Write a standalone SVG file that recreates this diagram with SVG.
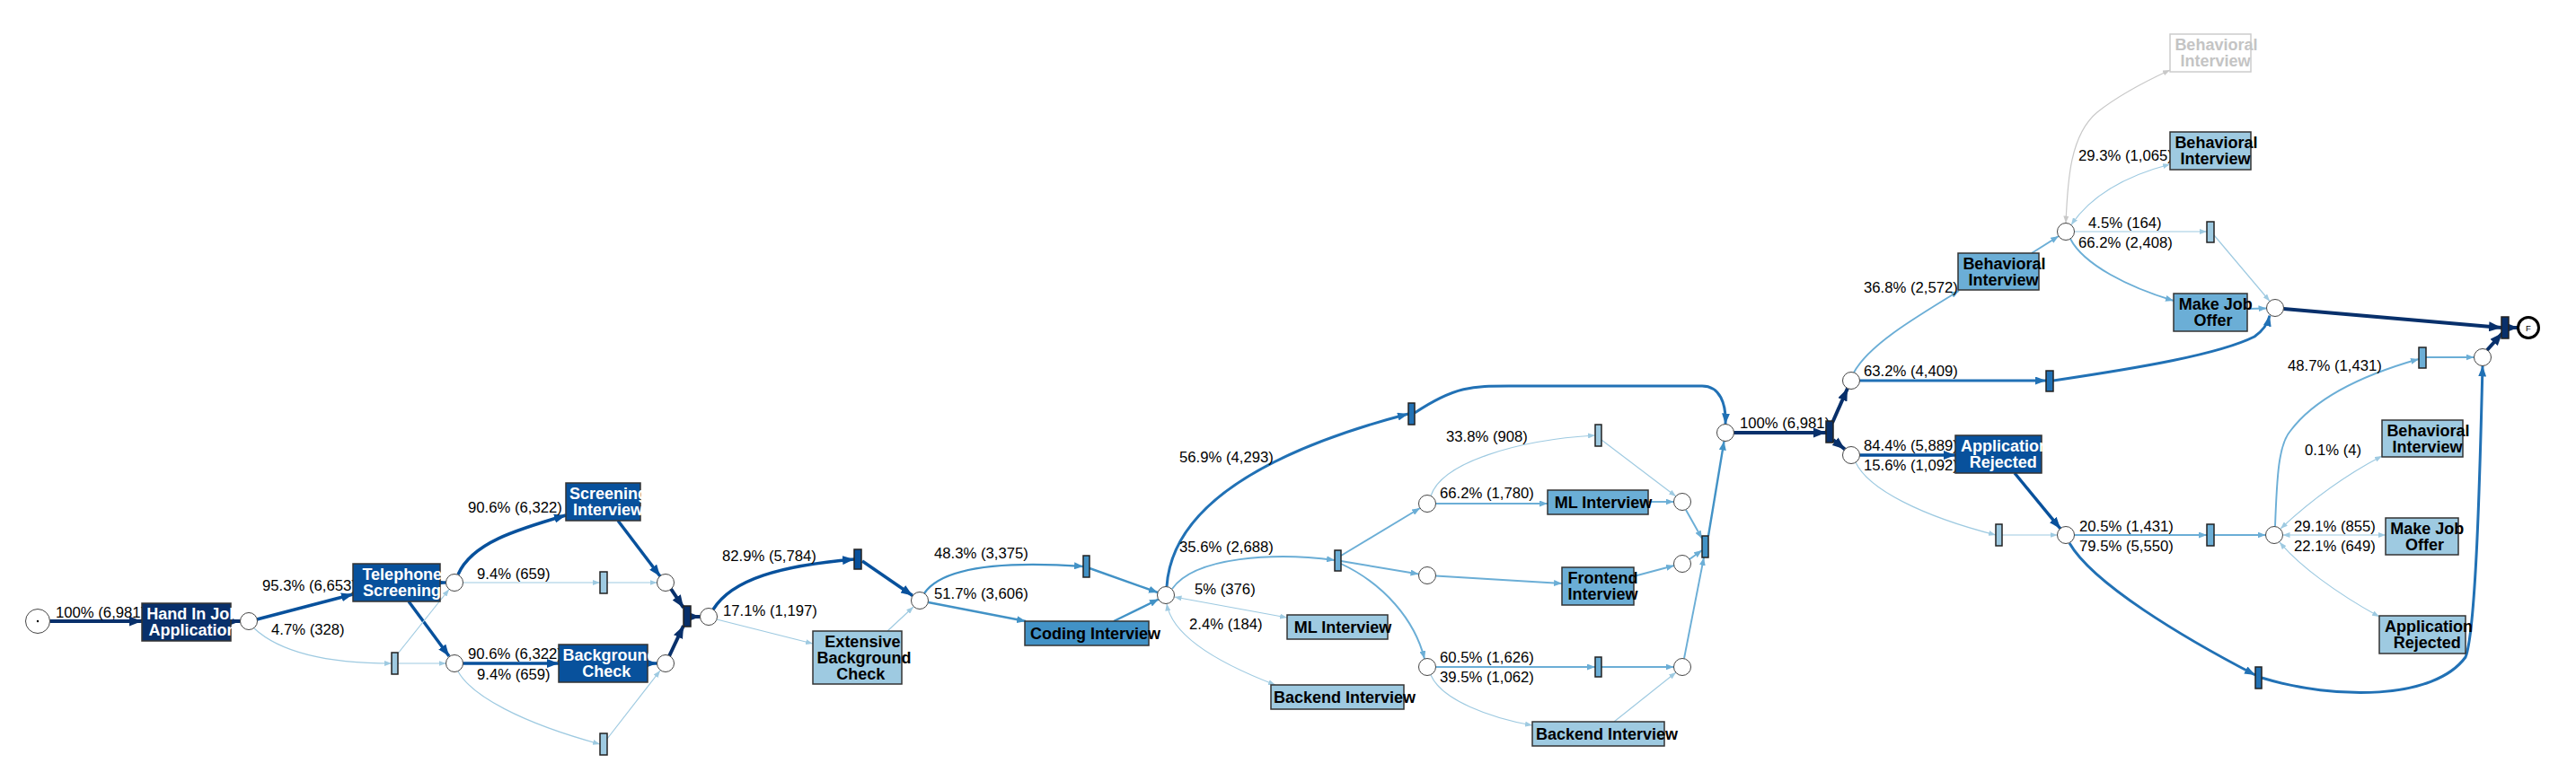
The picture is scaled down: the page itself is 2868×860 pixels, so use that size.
<svg xmlns="http://www.w3.org/2000/svg" width="2868" height="860" viewBox="0 0 2868 860">
<style>
.bg{fill:#ffffff}
.e{fill:none;stroke-linecap:butt}
.e0{stroke:#08306b;stroke-width:4;marker-end:url(#a0)}
.e1{stroke:#08519c;stroke-width:3.5;marker-end:url(#a1)}
.e2{stroke:#2171b5;stroke-width:3;marker-end:url(#a2)}
.e3{stroke:#4292c6;stroke-width:2.4;marker-end:url(#a3)}
.e4{stroke:#6baed6;stroke-width:1.9;marker-end:url(#a4)}
.e5{stroke:#9ecae1;stroke-width:1.2;marker-end:url(#a5)}
.eg{stroke:#c8c8c8;stroke-width:1.2;marker-end:url(#ag)}
.b5{marker-start:url(#a5)}
.bg5{marker-start:url(#ag)}
.lbl{font-family:"Liberation Sans",Arial,Helvetica,sans-serif;font-size:16.7px;fill:#000}
.place{fill:#ffffff;stroke:#444;stroke-width:1}
.tr{stroke:#222;stroke-width:1.5}
.box{stroke:#333;stroke-width:1.5}
.nt{font-family:"Liberation Sans",Arial,Helvetica,sans-serif;font-size:18px;font-weight:bold;text-anchor:middle}
.w{fill:#ffffff}
.k{fill:#000000}
.f0{fill:#08306b}.f1{fill:#08519c}.f2{fill:#2171b5}.f3{fill:#4292c6}.f4{fill:#6baed6}.f5{fill:#9ecae1}
</style>
<defs>
<marker id="a0" markerUnits="userSpaceOnUse" markerWidth="14" markerHeight="11" refX="14" refY="5.5" orient="auto-start-reverse"><path d="M0,0 L14,5.5 L0,11 z" fill="#08306b"/></marker>
<marker id="a1" markerUnits="userSpaceOnUse" markerWidth="13" markerHeight="10" refX="13" refY="5" orient="auto-start-reverse"><path d="M0,0 L13,5 L0,10 z" fill="#08519c"/></marker>
<marker id="a2" markerUnits="userSpaceOnUse" markerWidth="12" markerHeight="9" refX="12" refY="4.5" orient="auto-start-reverse"><path d="M0,0 L12,4.5 L0,9 z" fill="#2171b5"/></marker>
<marker id="a3" markerUnits="userSpaceOnUse" markerWidth="10" markerHeight="8" refX="10" refY="4" orient="auto-start-reverse"><path d="M0,0 L10,4 L0,8 z" fill="#4292c6"/></marker>
<marker id="a4" markerUnits="userSpaceOnUse" markerWidth="9" markerHeight="7" refX="9" refY="3.5" orient="auto-start-reverse"><path d="M0,0 L9,3.5 L0,7 z" fill="#6baed6"/></marker>
<marker id="a5" markerUnits="userSpaceOnUse" markerWidth="8" markerHeight="6" refX="8" refY="3" orient="auto-start-reverse"><path d="M0,0 L8,3 L0,6 z" fill="#9ecae1"/></marker>
<marker id="ag" markerUnits="userSpaceOnUse" markerWidth="8" markerHeight="6" refX="8" refY="3" orient="auto-start-reverse"><path d="M0,0 L8,3 L0,6 z" fill="#c8c8c8"/></marker>
</defs>
<rect class="bg" x="0" y="0" width="2868" height="860"/>

<g id="connectors">
<path class="e e0" d="M55.5,692 L158,692"/>
<path class="e e0" d="M257,692 L267.5,692"/>
<path class="e e1" d="M286,690 L393,662"/>
<path class="e e5" d="M283,700 C310,725 360,739 436,739"/>
<path class="e e1" d="M490,649 L496.5,649"/>
<path class="e e1" d="M455,670 L500,731"/>
<path class="e e5" d="M443,728 L500,656.5"/>
<path class="e e5" d="M443,739 L496.5,739"/>
<path class="e e1" d="M510,640 C525,605 575,590 630,574"/>
<path class="e e5" d="M515.5,649 L668,649"/>
<path class="e e5" d="M676,649 L731.5,649"/>
<path class="e e1" d="M688,580 L735,642"/>
<path class="e e1" d="M515.5,739 L622,739"/>
<path class="e e1" d="M721,739 L731.5,739"/>
<path class="e e5" d="M510,748 C525,775 580,805 668,829"/>
<path class="e e5" d="M676,823 L735,747"/>
<path class="e e0" d="M747,656 L761,677"/>
<path class="e e0" d="M745,731 L761,697"/>
<path class="e e0" d="M769,687 L779.5,687"/>
<path class="e e1" d="M794,679 C815,645 870,630 951,623"/>
<path class="e e5" d="M798,690 L905,717"/>
<path class="e e1" d="M960,625 L1016,663.5"/>
<path class="e e5" d="M988,703 L1017,676"/>
<path class="e e3" d="M1029,661 C1050,630 1120,625 1206,631"/>
<path class="e e3" d="M1033.5,671 L1142,692"/>
<path class="e e3" d="M1213,633 L1289,660"/>
<path class="e e3" d="M1240,692 L1290,667.5"/>
<path class="e e2" d="M1299,653.5 C1305,560 1420,500 1568,461"/>
<path class="e e2" d="M1575,460 C1620,430 1640,430 1680,430 L1895,430 C1915,430 1922,450 1921,472.5"/>
<path class="e e4" d="M1305,656 C1330,620 1420,615 1486,624"/>
<path class="e e5 b5" d="M1307.5,665 L1433,688"/>
<path class="e e5 b5" d="M1299,672.5 C1305,710 1360,740 1420,763"/>
<path class="e e4" d="M1493,619 L1581,566"/>
<path class="e e4" d="M1493,625 L1579.5,639.5"/>
<path class="e e4" d="M1493,628 C1540,650 1575,690 1586,734"/>
<path class="e e4" d="M1598.5,561 L1723,561"/>
<path class="e e5" d="M1593,552.5 C1605,515 1690,490 1776,485"/>
<path class="e e5" d="M1783,490 L1866,553"/>
<path class="e e4" d="M1835,559 L1863.5,559"/>
<path class="e e4" d="M1598.5,641.5 L1739,650"/>
<path class="e e4" d="M1819,642 L1864,630"/>
<path class="e e4" d="M1598.5,743 L1776,743"/>
<path class="e e4" d="M1783,743 L1863.5,743"/>
<path class="e e5" d="M1593,752 C1605,780 1660,800 1706,808"/>
<path class="e e5" d="M1797,804 L1866,749"/>
<path class="e e4" d="M1877,568 L1895,600"/>
<path class="e e4" d="M1881,623 L1895,613"/>
<path class="e e4" d="M1875,733.5 L1897,621"/>
<path class="e e3" d="M1902,597 L1919.5,491.5"/>
<path class="e e0" d="M1930.5,482 L2033,482"/>
<path class="e e0" d="M2040,471 L2057,432.5"/>
<path class="e e0" d="M2041,490 L2054,500.5"/>
<path class="e e4" d="M2064,415 C2080,385 2130,355 2181,324"/>
<path class="e e2" d="M2070.5,424 L2278,424"/>
<path class="e e2" d="M2286,424 C2380,410 2470,395 2510,375 C2520,368 2525,360 2527,351.5"/>
<path class="e e1" d="M2070.5,507 L2177,507"/>
<path class="e e5" d="M2066,515 C2080,545 2140,575 2222,596"/>
<path class="e e5" d="M2229,596 L2290.5,596"/>
<path class="e e1" d="M2243,527 L2294,589"/>
<path class="e e4" d="M2262,282 L2292,263"/>
<path class="e eg bg5" d="M2300,248.5 C2302,200 2305,150 2335,125 C2360,105 2390,90 2416,78"/>
<path class="e e5 b5" d="M2306,250.5 C2330,215 2370,195 2416,183"/>
<path class="e e5" d="M2309.5,258 L2457,258"/>
<path class="e e5" d="M2465,262 L2527,335.5"/>
<path class="e e4" d="M2305,266 C2320,295 2370,320 2420,335"/>
<path class="e e4" d="M2502,344 L2523.5,343.5"/>
<path class="e e0" d="M2542.5,344 L2785,365"/>
<path class="e e4" d="M2309.5,596 L2457,596"/>
<path class="e e2" d="M2304,605 C2330,650 2430,710 2511,752"/>
<path class="e e4" d="M2465,596 L2522.5,596"/>
<path class="e e4" d="M2533,586.5 C2535,530 2537,495 2550,480 C2580,440 2640,415 2693,400"/>
<path class="e e4" d="M2701,398 L2754.5,398"/>
<path class="e e5 b5" d="M2539,589 C2570,560 2610,530 2652,508"/>
<path class="e e5 b5" d="M2541.5,596 L2656,596"/>
<path class="e e5 b5" d="M2538,604 C2560,630 2600,660 2649,687"/>
<path class="e e2" d="M2518,755 C2600,780 2710,780 2745,732 C2758,700 2762,480 2764,407.5"/>
<path class="e e0" d="M2769,390 L2786,371"/>
<path class="e e0" d="M2793,365 L2803.5,365"/>

<text class="lbl" x="62" y="688">100% (6,981)</text>
<text class="lbl" x="292" y="658">95.3% (6,653)</text>
<text class="lbl" x="302" y="707">4.7% (328)</text>
<text class="lbl" x="521" y="571">90.6% (6,322)</text>
<text class="lbl" x="531" y="645">9.4% (659)</text>
<text class="lbl" x="521" y="734">90.6% (6,322)</text>
<text class="lbl" x="531" y="757">9.4% (659)</text>
<text class="lbl" x="804" y="625">82.9% (5,784)</text>
<text class="lbl" x="805" y="686">17.1% (1,197)</text>
<text class="lbl" x="1040" y="622">48.3% (3,375)</text>
<text class="lbl" x="1040" y="667">51.7% (3,606)</text>
<text class="lbl" x="1313" y="515">56.9% (4,293)</text>
<text class="lbl" x="1313" y="615">35.6% (2,688)</text>
<text class="lbl" x="1330" y="662">5% (376)</text>
<text class="lbl" x="1324" y="701">2.4% (184)</text>
<text class="lbl" x="1610" y="492">33.8% (908)</text>
<text class="lbl" x="1603" y="555">66.2% (1,780)</text>
<text class="lbl" x="1603" y="738">60.5% (1,626)</text>
<text class="lbl" x="1603" y="760">39.5% (1,062)</text>
<text class="lbl" x="1937" y="477">100% (6,981)</text>
<text class="lbl" x="2075" y="326">36.8% (2,572)</text>
<text class="lbl" x="2075" y="419">63.2% (4,409)</text>
<text class="lbl" x="2075" y="502">84.4% (5,889)</text>
<text class="lbl" x="2075" y="524">15.6% (1,092)</text>
<text class="lbl" x="2314" y="179">29.3% (1,065)</text>
<text class="lbl" x="2325" y="254">4.5% (164)</text>
<text class="lbl" x="2314" y="276">66.2% (2,408)</text>
<text class="lbl" x="2315" y="592">20.5% (1,431)</text>
<text class="lbl" x="2315" y="614">79.5% (5,550)</text>
<text class="lbl" x="2547" y="413">48.7% (1,431)</text>
<text class="lbl" x="2566" y="507">0.1% (4)</text>
<text class="lbl" x="2554" y="592">29.1% (855)</text>
<text class="lbl" x="2554" y="614">22.1% (649)</text>
</g>

<g id="start"><circle class="place" cx="42" cy="692" r="13.5"/><circle cx="42" cy="692" r="1.2" fill="#000"/></g>
<g id="end"><circle cx="2815" cy="365" r="11.5" fill="#fff" stroke="#000" stroke-width="3"/><text x="2815" y="368.5" font-family="Liberation Sans,Arial,sans-serif" font-size="9.5" text-anchor="middle">F</text></g>

<g id="p1"><circle class="place" cx="277" cy="692" r="9.5"/></g>
<g id="p2"><circle class="place" cx="506" cy="649" r="9.5"/></g>
<g id="p3"><circle class="place" cx="506" cy="739" r="9.5"/></g>
<g id="p4"><circle class="place" cx="741" cy="649" r="9.5"/></g>
<g id="p5"><circle class="place" cx="741" cy="739" r="9.5"/></g>
<g id="p6"><circle class="place" cx="789" cy="687" r="9.5"/></g>
<g id="p7"><circle class="place" cx="1024" cy="669" r="9.5"/></g>
<g id="p8"><circle class="place" cx="1298" cy="663" r="9.5"/></g>
<g id="p9"><circle class="place" cx="1921" cy="482" r="9.5"/></g>
<g id="p10"><circle class="place" cx="1589" cy="561" r="9.5"/></g>
<g id="p11"><circle class="place" cx="1589" cy="641" r="9.5"/></g>
<g id="p12"><circle class="place" cx="1589" cy="743" r="9.5"/></g>
<g id="p13"><circle class="place" cx="1873" cy="559" r="9.5"/></g>
<g id="p14"><circle class="place" cx="1873" cy="628" r="9.5"/></g>
<g id="p15"><circle class="place" cx="1873" cy="743" r="9.5"/></g>
<g id="p16"><circle class="place" cx="2061" cy="424" r="9.5"/></g>
<g id="p17"><circle class="place" cx="2061" cy="507" r="9.5"/></g>
<g id="p18"><circle class="place" cx="2533" cy="343" r="9.5"/></g>
<g id="p19"><circle class="place" cx="2300" cy="596" r="9.5"/></g>
<g id="p20"><circle class="place" cx="2532" cy="596" r="9.5"/></g>
<g id="p21"><circle class="place" cx="2764" cy="398" r="9.5"/></g>
<g id="p22"><circle class="place" cx="2300" cy="258" r="9.5"/></g>

<g id="t1"><rect class="tr f5" x="436" y="727" width="7" height="24"/></g>
<g id="t2"><rect class="tr f5" x="668" y="637" width="8" height="24"/></g>
<g id="t3"><rect class="tr f5" x="668" y="817" width="8" height="24"/></g>
<g id="t4"><rect class="tr f0" x="761" y="675" width="8" height="23"/></g>
<g id="t5"><rect class="tr f1" x="951" y="612" width="8" height="22"/></g>
<g id="t6"><rect class="tr f3" x="1206" y="619" width="7" height="24"/></g>
<g id="t7"><rect class="tr f2" x="1568" y="449" width="7" height="24"/></g>
<g id="t8"><rect class="tr f4" x="1486" y="613" width="7" height="23"/></g>
<g id="t9"><rect class="tr f5" x="1776" y="473" width="7" height="24"/></g>
<g id="t10"><rect class="tr f4" x="1776" y="732" width="7" height="22"/></g>
<g id="t11"><rect class="tr f3" x="1895" y="597" width="7" height="24"/></g>
<g id="t12"><rect class="tr f0" x="2033" y="469" width="8" height="24"/></g>
<g id="t13"><rect class="tr f2" x="2278" y="413" width="8" height="23"/></g>
<g id="t14"><rect class="tr f5" x="2222" y="584" width="7" height="24"/></g>
<g id="t15"><rect class="tr f4" x="2457" y="584" width="8" height="24"/></g>
<g id="t16"><rect class="tr f2" x="2511" y="743" width="7" height="24"/></g>
<g id="t17"><rect class="tr f4" x="2693" y="387" width="8" height="23"/></g>
<g id="t18"><rect class="tr f5" x="2457" y="247" width="8" height="23"/></g>
<g id="tend"><rect class="tr f0" x="2785" y="353" width="8" height="24"/></g>

<g id="hand-in"><rect class="box f0" x="158" y="672" width="99" height="42"/><text class="nt w" x="214.7" y="690">Hand In Job</text><text class="nt w" x="214.4" y="708">Application</text></g>
<g id="telephone"><rect class="box f1" x="393" y="628" width="97" height="42"/><text class="nt w" x="447.8" y="646">Telephone</text><text class="nt w" x="447.6" y="664">Screening</text></g>
<g id="screening-interview"><rect class="box f1" x="630" y="538" width="83" height="42"/><text class="nt w" x="677.6" y="556">Screening</text><text class="nt w" x="677" y="574">Interview</text></g>
<g id="background-check"><rect class="box f1" x="622" y="718" width="99" height="42"/><text class="nt w" x="678.9" y="736">Background</text><text class="nt w" x="675.3" y="754">Check</text></g>
<g id="extensive-bg"><rect class="box f5" x="905" y="703" width="99" height="59"/><text class="nt k" x="960.4" y="720.5">Extensive</text><text class="nt k" x="961.9" y="738.5">Background</text><text class="nt k" x="958.3" y="756.5">Check</text></g>
<g id="coding"><rect class="box f3" x="1141" y="692" width="138" height="27"/><text class="nt k" x="1219.5" y="711.5">Coding Interview</text></g>
<g id="ml-low"><rect class="box f5" x="1433" y="685" width="112" height="27"/><text class="nt k" x="1495" y="704.5">ML Interview</text></g>
<g id="backend-low"><rect class="box f5" x="1415" y="763" width="148" height="27"/><text class="nt k" x="1497" y="782.5">Backend Interview</text></g>
<g id="ml-up"><rect class="box f4" x="1723" y="546" width="112" height="27"/><text class="nt k" x="1785" y="565.5">ML Interview</text></g>
<g id="frontend"><rect class="box f4" x="1739" y="632" width="80" height="42"/><text class="nt k" x="1784.5" y="650">Frontend</text><text class="nt k" x="1784.5" y="668">Interview</text></g>
<g id="backend-up"><rect class="box f5" x="1706" y="804" width="147" height="27"/><text class="nt k" x="1789" y="823.5">Backend Interview</text></g>
<g id="behavioral-mid"><rect class="box f4" x="2180" y="282" width="90" height="41"/><text class="nt k" x="2231.4" y="299.5">Behavioral</text><text class="nt k" x="2230.5" y="317.5">Interview</text></g>
<g id="rejected-mid"><rect class="box f1" x="2177" y="485" width="96" height="42"/><text class="nt w" x="2231.9" y="503">Application</text><text class="nt w" x="2230.3" y="521">Rejected</text></g>
<g id="behavioral-gray"><rect x="2416" y="38" width="90" height="42" fill="#ffffff" stroke="#cccccc" stroke-width="1.5"/><text class="nt" fill="#c4c4c4" x="2467.4" y="56">Behavioral</text><text class="nt" fill="#c4c4c4" x="2466.5" y="74">Interview</text></g>
<g id="behavioral-top"><rect class="box f5" x="2416" y="147" width="90" height="42"/><text class="nt k" x="2467.4" y="165">Behavioral</text><text class="nt k" x="2466.5" y="183">Interview</text></g>
<g id="offer-up"><rect class="box f4" x="2420" y="327" width="82" height="42"/><text class="nt k" x="2466.7" y="345">Make Job</text><text class="nt k" x="2464" y="363">Offer</text></g>
<g id="behavioral-lr"><rect class="box f5" x="2652" y="468" width="90" height="41"/><text class="nt k" x="2703.4" y="485.5">Behavioral</text><text class="nt k" x="2702.5" y="503.5">Interview</text></g>
<g id="offer-low"><rect class="box f5" x="2656" y="577" width="81" height="41"/><text class="nt k" x="2702.2" y="594.5">Make Job</text><text class="nt k" x="2699.5" y="612.5">Offer</text></g>
<g id="rejected-low"><rect class="box f5" x="2649" y="686" width="96" height="42"/><text class="nt k" x="2703.9" y="704">Application</text><text class="nt k" x="2702.3" y="722">Rejected</text></g>
</svg>
